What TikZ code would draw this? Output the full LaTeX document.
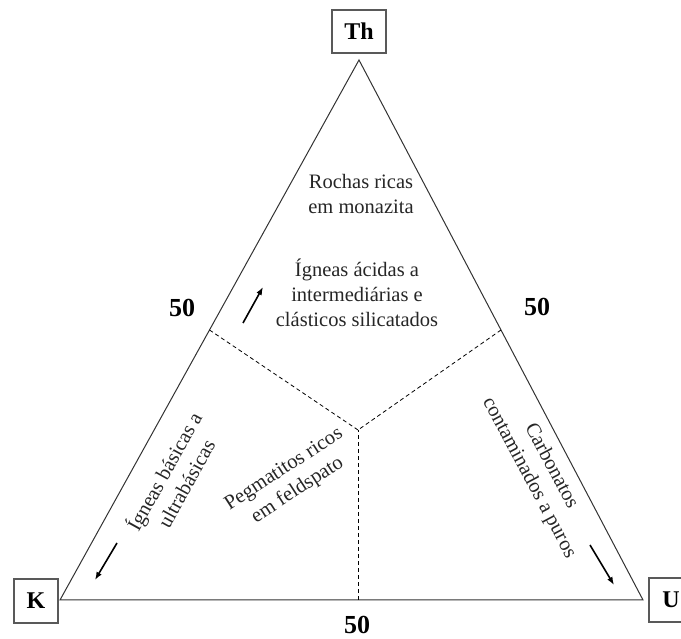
\documentclass[tikz,border=0pt]{standalone}
\usepackage{fontspec}
\setmainfont{Liberation Serif}
\usetikzlibrary{positioning, calc, arrows.meta}

\begin{document}
\begin{tikzpicture} [x=1pt, y=1pt,
  vertex/.style={draw=black!65, line width=1.2pt, minimum width=44pt, minimum height=44pt, inner sep=0pt, font=\fontsize{24}{28}\selectfont\bfseries},
  pct/.style={font=\fontsize{26}{30}\selectfont\bfseries},
  field/.style={align=center, inner sep=0pt, font=\fontsize{20.5}{25}\selectfont, text=black!85},
  trend/.style={-{Latex[length=8pt, width=6pt]}, line width=1.6pt},
  border/.style={line width=1pt, draw=black!80},
  split/.style={line width=0.8pt, dash pattern=on 4pt off 3pt}]
  \useasboundingbox (0,0) rectangle (681,639);

  % corners of the ternary plot
  \coordinate (th) at (359,579); \coordinate (k) at (60,39); \coordinate (u) at (643,39);
  \coordinate (mid) at (358,209);
  \draw[border] (th) -- (k) -- (u) -- cycle;

  % 50 % boundaries
  \draw[split] ($(th)!0.5!(k)$) -- (mid); \draw[split] ($(th)!0.5!(u)$) -- (mid);
  \draw[split] (358,39) -- (mid);

  \node[vertex, minimum width=54pt, minimum height=43pt] (Th) at (359,607.5) {Th};
  \node[vertex] (K) at (36,38) {K};
  \node[vertex] (U) at (671,39) {U};

  \node[pct] (p50l) at (182,331) {50}; \node[pct] (p50r) at (537,332) {50};
  \node[pct] (p50b) at (357,14) {50};

  % fields
  \node[field] (monazita) at (361,445) {Rochas ricas\\em monazita};
  \node[field] (acidas) at (357,346) {Ígneas ácidas a\\intermediárias e\\clásticos silicatados};
  \node[field, rotate=61] (basicas) at (174,162) {Ígneas básicas a\\ultrabásicas};
  \node[field, rotate=33] (pegmatitos) at (291,159) {Pegmatitos ricos\\em feldspato};
  \node[field, rotate=-62] (carbonatos) at (540,167) {Carbonatos\\contaminados a puros};

  % trends
  \coordinate (a1) at (243,316); \coordinate (b1) at (263,352);
  \coordinate (a2) at (117,96);  \coordinate (b2) at (95,59);
  \coordinate (a3) at (590,94);  \coordinate (b3) at (614,54);
  \draw[trend] (a1) -- (b1); \draw[trend] (a2) -- (b2); \draw[trend] (a3) -- (b3);
\end{tikzpicture}
\end{document}
